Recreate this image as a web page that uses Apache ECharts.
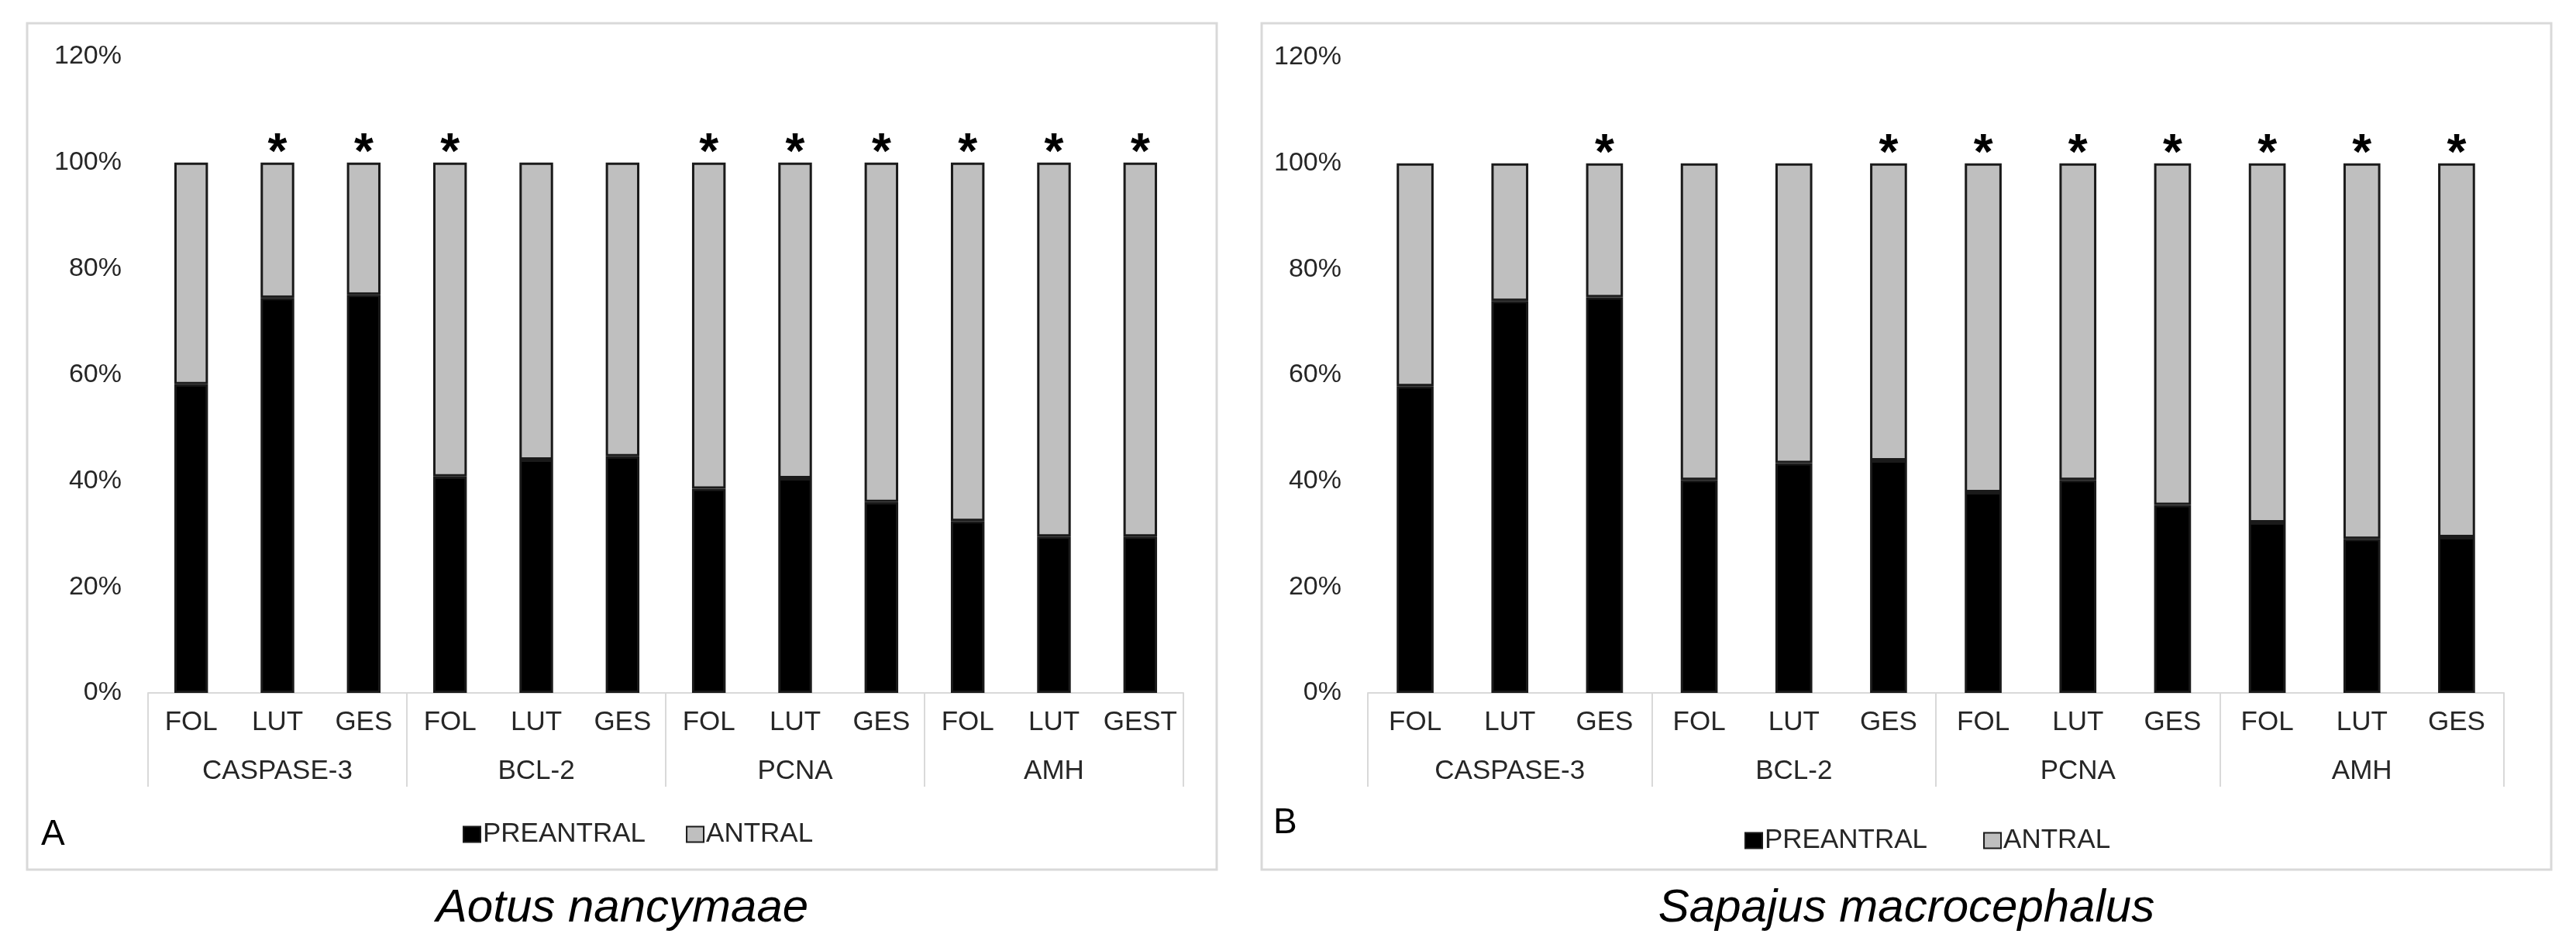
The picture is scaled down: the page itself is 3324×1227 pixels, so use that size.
<!DOCTYPE html>
<html>
<head>
<meta charset="utf-8">
<script src="https://cdn.jsdelivr.net/npm/echarts@6/dist/echarts.min.js"></script>
<style>
  html, body { margin: 0; padding: 0; background: #fff; }
  #chart { width: 3324px; height: 1227px; }
</style>
</head>
<body>
<div id="chart"></div>
<script>
// ---- data ----
const groups = ['CASPASE-3', 'BCL-2', 'PCNA', 'AMH'];
const subCatsA = ['FOL', 'LUT', 'GES', 'FOL', 'LUT', 'GES', 'FOL', 'LUT', 'GES', 'FOL', 'LUT', 'GEST'];
const subCatsB = ['FOL', 'LUT', 'GES', 'FOL', 'LUT', 'GES', 'FOL', 'LUT', 'GES', 'FOL', 'LUT', 'GES'];
const seriesNames = ['PREANTRAL', 'ANTRAL'];

const preantralA = [58.2, 74.5, 75.1, 40.8, 44.0, 44.6, 38.5, 40.5, 36.0, 32.4, 29.5, 29.5];
const antralA    = [41.8, 25.5, 24.9, 59.2, 56.0, 55.4, 61.5, 59.5, 64.0, 67.6, 70.5, 70.5];
const signifA    = [0, 1, 1, 1, 0, 0, 1, 1, 1, 1, 1, 1];

const preantralB = [57.9, 74.0, 74.7, 40.2, 43.4, 43.9, 37.9, 40.2, 35.5, 32.2, 29.1, 29.4];
const antralB    = [42.1, 26.0, 25.3, 59.8, 56.6, 56.1, 62.1, 59.8, 64.5, 67.8, 70.9, 70.6];
const signifB    = [0, 0, 1, 0, 0, 1, 1, 1, 1, 1, 1, 1];

const yTicks = { min: 0, max: 120, interval: 20 };
const speciesTitles = ['Aotus nancymaae', 'Sapajus macrocephalus'];
const panelLetters = ['A', 'B'];

// ---- styling ----
const FONT = "'Liberation Sans', Arial, sans-serif";
const TXT = '#262626';
const LIGHT = '#d9d9d9';

const chart = echarts.init(document.getElementById('chart'), null, { renderer: 'canvas' });

function xAxesFor(gridIndex, subCats) {
  return [
    {
      type: 'category', gridIndex: gridIndex, data: subCats, position: 'bottom',
      axisLine: { show: true, lineStyle: { color: LIGHT, width: 2 } },
      axisTick: { show: false },
      axisLabel: { interval: 0, margin: 21, fontSize: 35, lineHeight: 35, color: TXT, fontFamily: FONT }
    },
    {
      type: 'category', gridIndex: gridIndex, data: groups, position: 'bottom',
      axisLine: { show: false },
      axisTick: { show: true, interval: 0, length: 121, lineStyle: { color: LIGHT, width: 2 } },
      axisLabel: { interval: 0, margin: 84, fontSize: 35, lineHeight: 35, color: TXT, fontFamily: FONT }
    }
  ];
}

function yAxisFor(gridIndex) {
  return {
    type: 'value', gridIndex: gridIndex, min: yTicks.min, max: yTicks.max, interval: yTicks.interval,
    axisLine: { show: false }, axisTick: { show: false }, splitLine: { show: false },
    axisLabel: { formatter: '{value}%', margin: 34, fontSize: 34, color: TXT, fontFamily: FONT }
  };
}

function seriesFor(idx, pre, ant, sig) {
  return [
    {
      name: seriesNames[0], type: 'bar', stack: 'p' + idx, xAxisIndex: idx * 2, yAxisIndex: idx,
      data: pre, barWidth: '39%',
      itemStyle: { color: '#000000', borderColor: '#1a1a1a', borderWidth: 3 }
    },
    {
      name: seriesNames[1], type: 'bar', stack: 'p' + idx, xAxisIndex: idx * 2, yAxisIndex: idx,
      data: ant, barWidth: '39%',
      itemStyle: { color: '#bfbfbf', borderColor: '#1a1a1a', borderWidth: 3 },
      label: {
        show: true, position: 'top', distance: -10,
        formatter: (p) => sig[p.dataIndex] ? '*' : '',
        fontSize: 64, fontWeight: 'bold', lineHeight: 40, color: '#000', fontFamily: FONT
      }
    }
  ];
}

const option = {
  backgroundColor: '#ffffff',
  animation: false,
  textStyle: { fontFamily: FONT },
  grid: [
    { left: 191, right: 3324 - 1527, top: 73, bottom: 1227 - 894, containLabel: false },
    { left: 1765, right: 3324 - 3231, top: 74, bottom: 1227 - 894, containLabel: false }
  ],
  xAxis: [...xAxesFor(0, subCatsA), ...xAxesFor(1, subCatsB)],
  yAxis: [yAxisFor(0), yAxisFor(1)],
  legend: [
    {
      data: seriesNames, left: 592, top: 1054, itemWidth: 22, itemHeight: 20, itemGap: 52,
      icon: 'rect', selectedMode: false,
      textStyle: { fontSize: 35, color: TXT, fontFamily: FONT, padding: [0, 0, 0, -2] }
    },
    {
      data: seriesNames, left: 2246, top: 1062, itemWidth: 22, itemHeight: 20, itemGap: 72,
      icon: 'rect', selectedMode: false,
      textStyle: { fontSize: 35, color: TXT, fontFamily: FONT, padding: [0, 0, 0, -2] }
    }
  ],
  graphic: [
    { type: 'rect', shape: { x: 35, y: 30, width: 1535, height: 1092 }, style: { fill: 'none', stroke: LIGHT, lineWidth: 3 }, silent: true },
    { type: 'rect', shape: { x: 1628, y: 30, width: 1664, height: 1092 }, style: { fill: 'none', stroke: LIGHT, lineWidth: 3 }, silent: true },
    { type: 'text', x: 53, y: 1077, style: { text: panelLetters[0], fill: '#000', font: '46px ' + FONT, textVerticalAlign: 'middle' } },
    { type: 'text', x: 1643, y: 1062, style: { text: panelLetters[1], fill: '#000', font: '46px ' + FONT, textVerticalAlign: 'middle' } },
    { type: 'text', x: 803, y: 1172, style: { text: speciesTitles[0], font: 'italic 60px ' + FONT, fill: '#000', textAlign: 'center', textVerticalAlign: 'middle' } },
    { type: 'text', x: 2460, y: 1172, style: { text: speciesTitles[1], font: 'italic 60px ' + FONT, fill: '#000', textAlign: 'center', textVerticalAlign: 'middle' } }
  ],
  series: [
    ...seriesFor(0, preantralA, antralA, signifA),
    ...seriesFor(1, preantralB, antralB, signifB)
  ]
};

chart.setOption(option);
</script>
</body>
</html>
